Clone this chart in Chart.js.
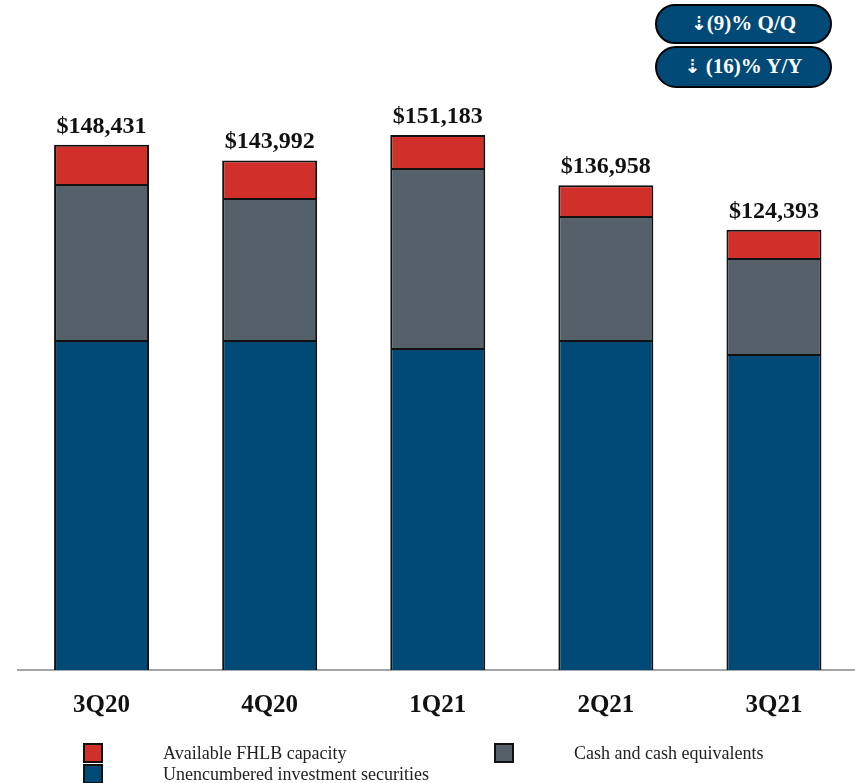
<!DOCTYPE html>
<html>
<head>
<meta charset="utf-8">
<script src="https://cdn.jsdelivr.net/npm/chart.js@4"></script>
<style>
  html, body { margin: 0; padding: 0; background: #fff; overflow: hidden; }
  #wrap { position: relative; width: 858px; height: 783px; }
  .badge {
    position: absolute; box-sizing: border-box;
    background: #014a77; border: 2.5px solid #000; border-radius: 21px;
    color: #fff; font-family: "Liberation Serif", serif; font-weight: bold;
    font-size: 21px; text-align: center; white-space: nowrap;
  }
  .badge .arr { font-family: "DejaVu Sans", sans-serif; font-weight: bold; font-size: 19px; }
</style>
</head>
<body>
<div id="wrap">
  <canvas id="c"></canvas>
  <div class="badge" style="left:655px; top:4px; width:177px; height:40px; line-height:35px;"><span class="arr">⇣</span>(9)% Q/Q</div>
  <div class="badge" style="left:655px; top:46px; width:177px; height:42px; line-height:37px;"><span class="arr">⇣</span> (16)% Y/Y</div>
</div>
<script>
// Liquidity sources by quarter ($ in thousands)
const quarters = ['3Q20', '4Q20', '1Q21', '2Q21', '3Q21'];
const unencumberedSecurities = [93250, 93250, 90990, 93250, 89290];
const cashEquivalents = [44080, 40120, 50860, 35040, 27130];
const fhlbCapacity = [11101, 10622, 9333, 8668, 7973];

const seriesNames = ['Unencumbered investment securities', 'Cash and cash equivalents', 'Available FHLB capacity'];
const seriesColors = ['#014a77', '#56606a', '#d1302a'];

const serif = '"Liberation Serif", "Times New Roman", serif';

// Totals printed above each stacked column
const totalsPlugin = {
  id: 'stackTotals',
  afterDatasetsDraw(chart) {
    const ctx = chart.ctx;
    const topMeta = chart.getDatasetMeta(chart.data.datasets.length - 1);
    ctx.save();
    ctx.font = 'bold 24px ' + serif;
    ctx.fillStyle = '#111';
    ctx.textAlign = 'center';
    ctx.textBaseline = 'alphabetic';
    chart.data.labels.forEach((_, i) => {
      const total = chart.data.datasets.reduce((s, ds) => s + ds.data[i], 0);
      const bar = topMeta.data[i];
      ctx.fillText('$' + total.toLocaleString('en-US'), bar.x, bar.y - 12);
    });
    ctx.restore();
  }
};

// Legend laid out in two columns beneath the axis
const legendPlugin = {
  id: 'bottomLegend',
  afterDraw(chart) {
    const ctx = chart.ctx;
    const ds = chart.data.datasets;
    const items = [
      { d: ds[2], bx: 84, by: 744, tx: 163, ty: 754 },
      { d: ds[0], bx: 84, by: 765, tx: 163, ty: 775 },
      { d: ds[1], bx: 495, by: 744, tx: 574, ty: 754 }
    ];
    ctx.save();
    ctx.font = '18px ' + serif;
    ctx.textBaseline = 'middle';
    ctx.textAlign = 'left';
    items.forEach(it => {
      ctx.fillStyle = it.d.backgroundColor;
      ctx.fillRect(it.bx, it.by, 18, 18);
      ctx.lineWidth = 2;
      ctx.strokeStyle = '#111';
      ctx.strokeRect(it.bx, it.by, 18, 18);
      ctx.fillStyle = '#222';
      ctx.fillText(it.d.label, it.tx, it.ty);
    });
    ctx.restore();
  }
};

new Chart(document.getElementById('c'), {
  type: 'bar',
  data: {
    labels: quarters,
    datasets: [
      { label: seriesNames[0], data: unencumberedSecurities, backgroundColor: seriesColors[0] },
      { label: seriesNames[1], data: cashEquivalents, backgroundColor: seriesColors[1] },
      { label: seriesNames[2], data: fhlbCapacity, backgroundColor: seriesColors[2] }
    ]
  },
  options: {
    responsive: true,
    maintainAspectRatio: false,
    animation: false,
    layout: { padding: { top: 33, left: 17.5, right: 0, bottom: 0 } },
    datasets: {
      bar: {
        borderColor: '#111',
        borderWidth: 2,
        barPercentage: 0.565,
        categoryPercentage: 1
      }
    },
    plugins: {
      legend: { display: false },
      tooltip: { enabled: false }
    },
    scales: {
      x: {
        stacked: true,
        grid: { display: false, drawTicks: false },
        border: { display: true, color: '#a6a6a6', width: 2 },
        ticks: {
          color: '#111',
          padding: 21,
          font: { family: serif, size: 25, weight: 'bold' }
        },
        afterFit(scale) { scale.height = 113; }
      },
      y: {
        stacked: true,
        display: false,
        min: 0,
        max: 180000
      }
    }
  },
  plugins: [totalsPlugin, legendPlugin]
});
</script>
</body>
</html>
